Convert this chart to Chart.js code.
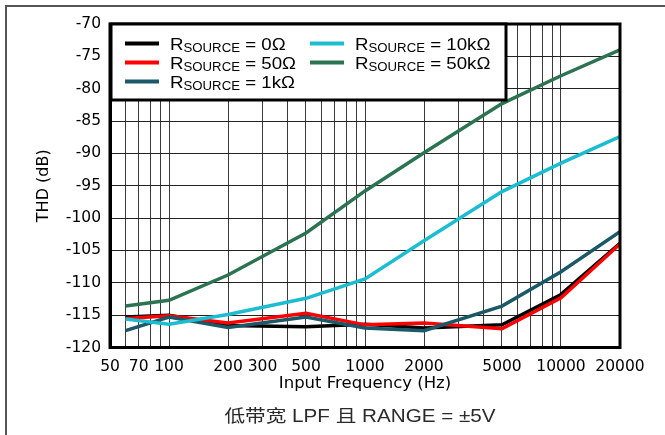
<!DOCTYPE html>
<html>
<head>
<meta charset="utf-8">
<script src="https://cdn.jsdelivr.net/npm/chart.js@4"></script>
<style>
  body { margin: 0; background: #fff; }
  #wrap { position: relative; width: 665px; height: 435px; }
  #frame { position: absolute; left: 5px; top: 5px; right: 0; bottom: 0; border-left: 2px solid #555; border-top: 2px solid #555; pointer-events: none; }
</style>
</head>
<body>
<div id="wrap">
  <canvas id="thd" width="665" height="435"></canvas>
  <div id="frame"></div>
</div>
<script>
// frequencies (Hz) where the curves were measured
const freqs = [60, 100, 200, 500, 1000, 2000, 5000, 10000, 20000];

// THD in dB for each source resistance
const thd0R   = [-115.3, -115.0, -116.6, -116.8, -116.4, -117.0, -116.5, -111.8, -103.9];
const thd50R  = [-115.5, -115.1, -116.2, -114.7, -116.5, -116.2, -117.1, -112.3, -104.0];
const thd1k   = [-117.4, -115.3, -116.9, -115.3, -117.0, -117.4, -113.6, -108.3, -102.1];
const thd10k  = [-115.6, -116.4, -114.9, -112.4, -109.4, -103.5, -95.9, -91.5, -87.4];
const thd50k  = [-113.6, -112.7, -108.8, -102.3, -95.8, -89.9, -82.3, -78.0, -74.0];

const seriesNames = ['0\u03A9', '50\u03A9', '1k\u03A9', '10k\u03A9', '50k\u03A9'];
const seriesColors = ['#000000', '#ff0000', '#1b5868', '#1cbdd0', '#2c7352'];

// grid lines on the log axis and the ones that get a label
const xGrid = [50, 60, 70, 80, 90, 100, 200, 300, 400, 500, 600, 700, 800, 900,
               1000, 2000, 3000, 4000, 5000, 6000, 7000, 8000, 9000, 10000, 20000];
const xLabels = [50, 70, 100, 200, 300, 500, 1000, 2000, 5000, 10000, 20000];
const yMin = -120, yMax = -70, yStep = 5;

const caption = '低带宽 LPF 且 RANGE = ±5V';

const FONT = '"DejaVu Sans", "Liberation Sans", Arial, sans-serif';
const ARIAL = '"Liberation Sans", Arial, sans-serif';

const allSeries = [thd0R, thd50R, thd1k, thd10k, thd50k];
const datasets = allSeries.map((vals, i) => ({
    label: 'RSOURCE = ' + seriesNames[i],
    data: freqs.map((f, j) => ({ x: f, y: vals[j] })),
    borderColor: seriesColors[i],
    backgroundColor: seriesColors[i],
    borderWidth: 3.5,
    pointRadius: 0,
    tension: 0,
    order: allSeries.length - i
}));

const framePlugin = {
    id: 'frame',
    afterDatasetsDraw(chart) {
        const a = chart.chartArea;
        const c = chart.ctx;
        c.save();
        c.strokeStyle = '#000';
        c.lineWidth = 3;
        c.strokeRect(a.left, a.top, a.right - a.left, a.bottom - a.top);
        c.restore();
    }
};

// the original text is a little wider than it is tall
function wideText(c, text, x, y, k) {
    c.save();
    c.translate(x, y);
    c.scale(k, 1);
    c.fillText(text, 0, 0);
    c.restore();
    return c.measureText(text).width * k;
}

const legendPlugin = {
    id: 'boxLegend',
    afterDraw(chart) {
        const c = chart.ctx;
        c.save();
        // box
        c.fillStyle = '#fff';
        c.fillRect(111, 24, 395, 76);
        c.strokeStyle = '#000';
        c.lineWidth = 3;
        c.strokeRect(111, 24, 395, 76);

        const cols = [{ x0: 125, x1: 159, tx: 170 }, { x0: 310, x1: 344, tx: 355 }];
        const rows = [43.5, 62.5, 81.5];
        seriesNames.forEach((name, i) => {
            const col = cols[i < 3 ? 0 : 1];
            const y = rows[i < 3 ? i : i - 3];
            c.strokeStyle = seriesColors[i];
            c.lineWidth = 4;
            c.beginPath();
            c.moveTo(col.x0, y);
            c.lineTo(col.x1, y);
            c.stroke();

            c.fillStyle = '#000';
            c.textBaseline = 'alphabetic';
            c.textAlign = 'left';
            let x = col.tx;
            const base = y + 6.5;
            c.font = '17px ' + ARIAL;
            x += wideText(c, 'R', x, base, 1.1);
            c.font = '12px ' + ARIAL;
            x += wideText(c, 'SOURCE', x, base + 2, 1.1);
            c.font = '17px ' + ARIAL;
            wideText(c, ' = ' + name, x, base, 1.1);
        });

        // caption under the chart
        c.fillStyle = '#2a2a2a';
        c.textAlign = 'left';
        c.textBaseline = 'middle';
        c.font = '17.5px ' + ARIAL + ', "Noto Sans CJK SC"';
        const w = c.measureText(caption).width * 1.18;
        wideText(c, caption, 360 - w / 2, 417, 1.18);
        c.restore();
    }
};

new Chart(document.getElementById('thd'), {
    type: 'line',
    data: { datasets: datasets },
    options: {
        responsive: false,
        animation: false,
        parsing: false,
        layout: { padding: { left: 30, top: 24, right: 45, bottom: 37 } },
        plugins: {
            legend: { display: false },
            tooltip: { enabled: false }
        },
        scales: {
            x: {
                type: 'logarithmic',
                min: 50,
                max: 20000,
                afterBuildTicks: (scale) => {
                    scale.ticks = xGrid.map(v => ({ value: v }));
                },
                afterFit: (scale) => { scale.height = 50.5; },
                ticks: {
                    autoSkip: false,
                    maxRotation: 0,
                    padding: 10,
                    color: '#000',
                    font: { family: FONT, size: 15.5 },
                    callback: (v) => xLabels.includes(v) ? String(v) : ''
                },
                grid: { color: '#3a3a3a', lineWidth: 1, drawTicks: false },
                border: { color: '#000', width: 3 },
                title: {
                    display: true,
                    text: 'Input Frequency (Hz)',
                    color: '#000',
                    font: { family: FONT, size: 16.5 }
                }
            },
            y: {
                min: yMin,
                max: yMax,
                afterFit: (scale) => { scale.width = 80; },
                ticks: {
                    stepSize: yStep,
                    padding: 9,
                    color: '#000',
                    font: { family: FONT, size: 15.5 }
                },
                grid: { color: '#222', lineWidth: 1, drawTicks: false },
                border: { color: '#000', width: 3 },
                title: {
                    display: true,
                    text: 'THD (dB)',
                    color: '#000',
                    font: { family: FONT, size: 16 }
                }
            }
        }
    },
    plugins: [framePlugin, legendPlugin]
});
</script>
</body>
</html>
